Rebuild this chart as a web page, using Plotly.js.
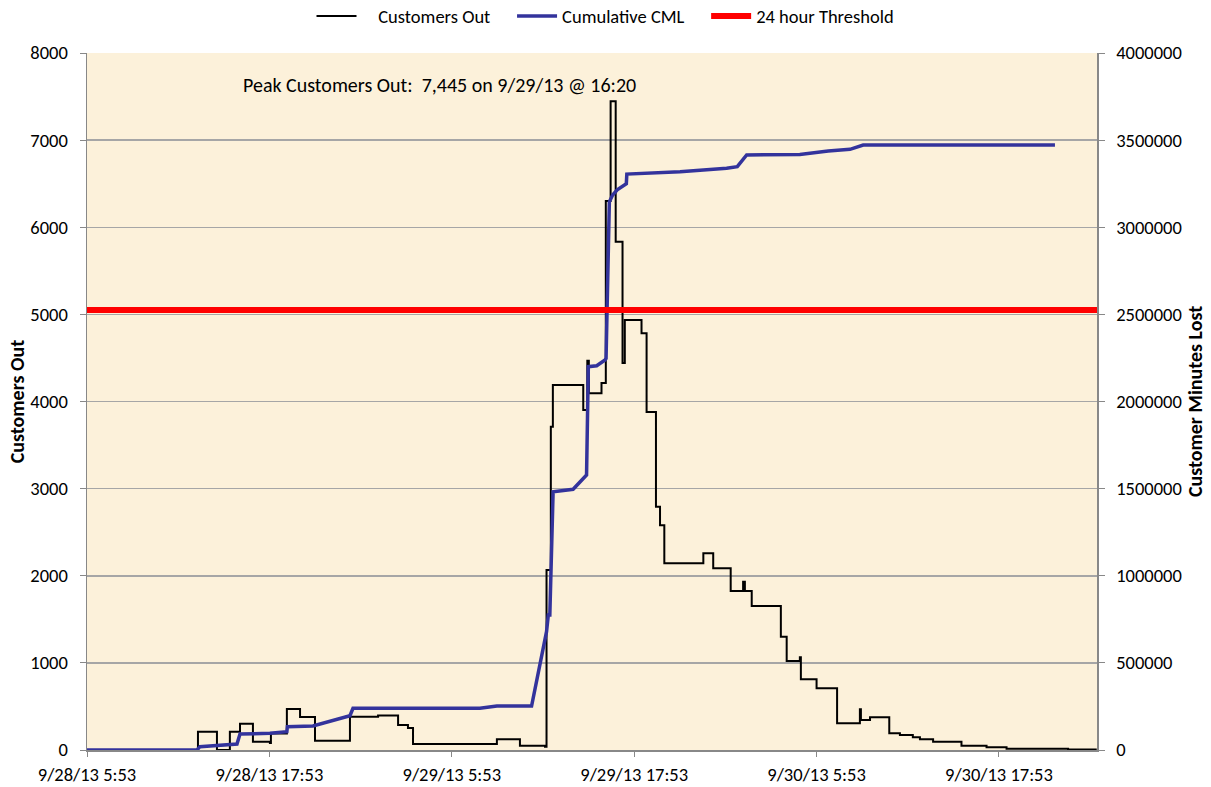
<!DOCTYPE html>
<html>
<head>
<meta charset="utf-8">
<script src="https://cdn.plot.ly/plotly-3.0.1.min.js"></script>
<style>
html,body{margin:0;padding:0;background:#fff;}
#chart{width:1211px;height:787px;}
</style>
</head>
<body>
<div id="chart"></div>
<script>
// Customers Out (step series)
const outTimes = [
 '2013-09-28 05:53','2013-09-28 13:11','2013-09-28 14:26','2013-09-28 15:17','2013-09-28 15:57',
 '2013-09-28 16:48','2013-09-28 17:55','2013-09-28 17:59','2013-09-28 19:02','2013-09-28 19:54',
 '2013-09-28 20:53','2013-09-28 23:11','2013-09-29 01:02','2013-09-29 02:21','2013-09-29 03:00',
 '2013-09-29 03:20','2013-09-29 08:51','2013-09-29 10:22','2013-09-29 12:01','2013-09-29 12:07',
 '2013-09-29 12:24','2013-09-29 12:32','2013-09-29 14:32','2013-09-29 14:48','2013-09-29 14:54',
 '2013-09-29 15:44','2013-09-29 16:01','2013-09-29 16:20','2013-09-29 16:40','2013-09-29 17:07',
 '2013-09-29 17:16','2013-09-29 18:22','2013-09-29 18:42','2013-09-29 19:19','2013-09-29 19:35',
 '2013-09-29 19:52','2013-09-29 22:26','2013-09-29 23:05','2013-09-30 00:14','2013-09-30 01:03',
 '2013-09-30 01:10','2013-09-30 01:37','2013-09-30 03:32','2013-09-30 03:55','2013-09-30 04:47',
 '2013-09-30 04:51','2013-09-30 05:53','2013-09-30 07:14','2013-09-30 08:44','2013-09-30 08:48',
 '2013-09-30 09:24','2013-09-30 10:40','2013-09-30 11:22','2013-09-30 12:13','2013-09-30 12:41',
 '2013-09-30 13:33','2013-09-30 15:25','2013-09-30 17:04','2013-09-30 18:23','2013-09-30 22:26',
 '2013-10-01 00:19'
];
const customersOut = [
 0,210,0,210,300,
 95,80,190,470,380,
 107,383,395,287,252,
 69,123,50,38,2066,
 3711,4190,3902,4468,4094,
 4212,6300,7445,5834,4442,
 4935,4782,3880,2793,2580,
 2143,2257,2085,1825,1932,
 1825,1653,1301,1022,1064,
 811,708,306,467,344,
 375,191,172,145,122,
 96,50,31,15,5,
 5
];

// Cumulative Customer Minutes Lost (right axis)
const cmlTimes = [
 '2013-09-28 05:53','2013-09-28 13:07','2013-09-28 13:19','2013-09-28 15:45','2013-09-28 15:57',
 '2013-09-28 17:55','2013-09-28 19:02','2013-09-28 19:04','2013-09-28 20:45','2013-09-28 23:11',
 '2013-09-28 23:23','2013-09-29 07:44','2013-09-29 08:51','2013-09-29 11:08','2013-09-29 12:07',
 '2013-09-29 12:14','2013-09-29 12:20','2013-09-29 12:33','2013-09-29 13:52','2013-09-29 14:45',
 '2013-09-29 14:52','2013-09-29 15:25','2013-09-29 15:58','2013-09-29 16:02','2013-09-29 16:15',
 '2013-09-29 16:28','2013-09-29 16:46','2013-09-29 17:22','2013-09-29 17:24','2013-09-29 20:54',
 '2013-09-29 23:58','2013-09-30 00:40','2013-09-30 01:17','2013-09-30 04:47','2013-09-30 06:39',
 '2013-09-30 08:05','2013-09-30 08:57','2013-09-30 21:34'
];
const cumulativeCML = [
 0,0,19000,34000,92000,
 95500,105000,134000,138000,197000,
 239000,239000,252500,252500,679000,
 774600,774600,1482000,1496000,1578000,
 2200000,2205000,2238000,2247000,3146000,
 3185000,3215000,3250000,3305000,3319000,
 3338000,3347600,3414600,3418000,3437000,
 3447000,3471700,3471700
];

// 24 hour threshold (customer minutes lost)
const thresholdTimes = ['2013-09-28 05:53','2013-10-01 00:20'];
const thresholdCML = [2525000, 2525000];

const tickVals = ['2013-09-28 05:53','2013-09-28 17:53','2013-09-29 05:53','2013-09-29 17:53','2013-09-30 05:53','2013-09-30 17:53'];
const tickText = ['9/28/13 5:53','9/28/13 17:53','9/29/13 5:53','9/29/13 17:53','9/30/13 5:53','9/30/13 17:53'];

const FONT = 'Carlito, Lato, "Open Sans", sans-serif';
const NB = '\u00a0';

const traces = [
 {x: outTimes, y: customersOut, name: NB.repeat(4) + 'Customers Out' + NB.repeat(4), type: 'scatter', mode: 'lines',
  line: {color: '#000000', width: 2, shape: 'hv'}, yaxis: 'y'},
 {x: cmlTimes, y: cumulativeCML, name: 'Cumulative CML' + NB.repeat(4), type: 'scatter', mode: 'lines',
  line: {color: '#33339C', width: 3.5}, yaxis: 'y2'},
 {x: thresholdTimes, y: thresholdCML, name: '24 hour Threshold', type: 'scatter', mode: 'lines',
  line: {color: '#FF0000', width: 6}, yaxis: 'y2'}
];

const layout = {
 width: 1211, height: 787,
 margin: {l: 87, r: 114, t: 53, b: 37, autoexpand: false},
 paper_bgcolor: '#FFFFFF',
 plot_bgcolor: '#FCF1DA',
 font: {family: FONT, size: 18, color: '#000'},
 showlegend: true,
 legend: {orientation: 'h', x: 0.5, xanchor: 'center', xref: 'container', y: 0.979, yanchor: 'middle', yref: 'container',
  font: {family: FONT, size: 18.5, color: '#000'}, bgcolor: 'rgba(0,0,0,0)', traceorder: 'normal',
  itemwidth: 40},
 xaxis: {type: 'date', range: ['2013-09-28 05:53','2013-10-01 00:20'],
  tickvals: tickVals, ticktext: tickText, tickmode: 'array',
  showgrid: false, zeroline: false, showline: true, linecolor: '#888888', linewidth: 1.5,
  ticks: 'outside', ticklen: 5, tickcolor: '#888888', ticklabelstandoff: 2,
  tickfont: {family: FONT, size: 18.5, color: '#000'}},
 yaxis: {range: [0, 8000], dtick: 1000, tick0: 0, showgrid: true, gridcolor: '#A6A6A6', gridwidth: 1.5,
  zeroline: false, showline: true, linecolor: '#888888', linewidth: 1.5,
  ticks: 'outside', ticklen: 6, tickcolor: '#888888', ticklabelstandoff: 8,
  tickfont: {family: FONT, size: 18.5, color: '#000'},
  title: {text: '<b>Customers Out</b>', font: {family: FONT, size: 20, color: '#000'}, standoff: 0}},
 yaxis2: {range: [0, 4000000], dtick: 500000, tick0: 0, overlaying: 'y', side: 'right',
  showgrid: false, zeroline: false, showline: true, linecolor: '#888888', linewidth: 1.5,
  ticks: 'outside', ticklen: 6, tickcolor: '#888888', ticklabelstandoff: 8, tickformat: 'd',
  tickfont: {family: FONT, size: 18.5, color: '#000'},
  title: {text: '<b>Customer Minutes Lost</b>', font: {family: FONT, size: 20, color: '#000'}, standoff: 7}},
 annotations: [
  {text: 'Peak Customers Out:\u00a0 7,445 on 9/29/13 @ 16:20', xref: 'paper', yref: 'paper',
   x: 0.3495, y: 0.954, xanchor: 'center', yanchor: 'middle', showarrow: false,
   font: {family: FONT, size: 20, color: '#000'}}
 ]
};

Plotly.newPlot('chart', traces, layout, {displayModeBar: false, staticPlot: true});
</script>
</body>
</html>
